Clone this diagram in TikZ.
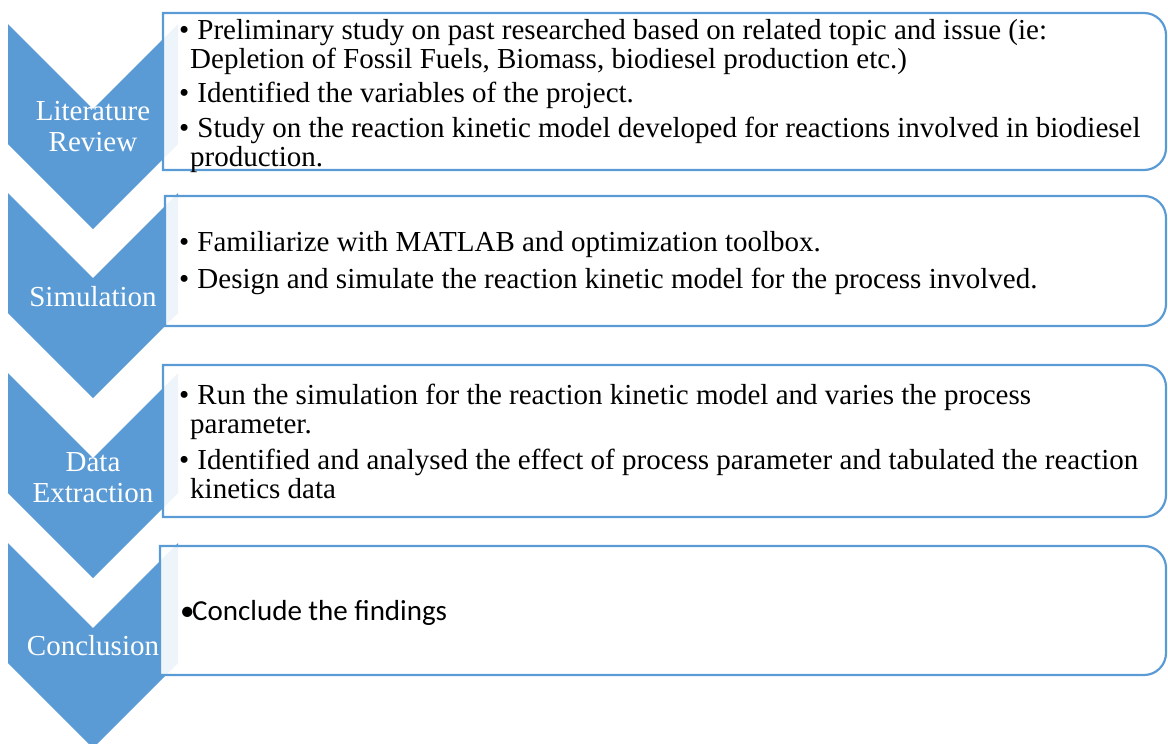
\documentclass[tikz,border=0pt]{standalone}
\usepackage{fontspec}
\setmainfont{Liberation Serif}
\newfontfamily\calfont{Carlito}
\definecolor{chevblue}{HTML}{5B9BD5}
\newcommand\bitem{\makebox[11pt][l]{\textbullet}\ }
\newcommand\cont{\hspace*{11pt}}
\tikzset{
  chevron/.style={fill=chevblue, draw=none},
  panel/.style={draw=chevblue, line width=2.2pt, fill=white, fill opacity=0.9, line join=miter},
  stagelabel/.style={text=white, font=\fontsize{29}{31}\selectfont, align=center, inner sep=0pt},
  bodytext/.style={text=black, font=\fontsize{29}{29.5}\selectfont, align=left, inner sep=0pt, anchor=west},
}
\begin{document}
\begin{tikzpicture}[x=1pt, y=-1pt]
\useasboundingbox (0,0) rectangle (1168,744);

% chevrons: top y of each stage
\foreach \t in {24,193,373,543}{
  \path[chevron] (8,\t) -- (93,\t+85) -- (178,\t) -- (178,\t+120) -- (93,\t+205) -- (8,\t+120) -- cycle;
}

% panels: left x, top y, bottom y (square left corners, round right corners)
\foreach \xl/\yt/\yb in {163/13/170, 165/196/326, 163/365/517, 160/546/675}{
  \path[panel] (\xl,\yt) -- (1144,\yt)
    .. controls (1156.2,\yt) and (1166,\yt+9.8) .. (1166,\yt+22)
    -- (1166,\yb-22)
    .. controls (1166,\yb-9.8) and (1156.2,\yb) .. (1144,\yb)
    -- (\xl,\yb) -- cycle;
}

% stage labels
\node[stagelabel] (lit) at (93,126.6) {Literature\\Review};
\node[stagelabel] (sim) at (93,296.5) {Simulation};
\node[stagelabel] (dat) at (93,477.3) {Data\\Extraction};
\node[stagelabel] (con) at (93,645.5) {Conclusion};

% panel texts
\node[bodytext] (t1) at (179,96) {%
\bitem Preliminary study on past researched based on related topic and issue (ie:\\
\cont Depletion of Fossil Fuels, Biomass, biodiesel production etc.)\\[4pt]
\bitem Identified the variables of the project.\\[5.5pt]
\bitem Study on the reaction kinetic model developed for reactions involved in biodiesel\\
\cont production.};

\node[bodytext] (t2) at (179,263) {%
\bitem Familiarize with MATLAB and optimization toolbox.\\[8pt]
\bitem Design and simulate the reaction kinetic model for the process involved.};

\node[bodytext] (t3) at (179,441.5) {%
\bitem Run the simulation for the reaction kinetic model and varies the process\\
\cont parameter.\\[6pt]
\bitem Identified and analysed the effect of process parameter and tabulated the reaction\\
\cont kinetics data};

\node[bodytext, font=\calfont\fontsize{29}{31}\selectfont] (t4) at (180,612.5) {%
\makebox[12pt][l]{\textbullet}Conclude the findings};
\end{tikzpicture}
\end{document}
